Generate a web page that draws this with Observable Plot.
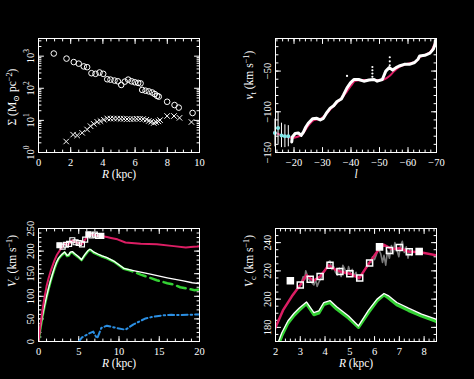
<!DOCTYPE html>
<html><head><meta charset="utf-8">
<script src="https://cdn.jsdelivr.net/npm/d3@7"></script>
<script src="https://cdn.jsdelivr.net/npm/@observablehq/plot@0.6"></script>
<style>
html,body{margin:0;padding:0;background:#000;}
#wrap{position:relative;width:474px;height:379px;background:#000;overflow:hidden;}
#wrap > svg{position:absolute;}
</style>
</head><body><div id="wrap"></div>
<script>
// ---------- Panel 1: surface density ----------
const circR = [0.95,1.74,2.19,2.5,2.81,3.02,3.29,3.54,3.79,4.02,4.27,4.47,4.72,4.93,5.14,5.36,5.57,5.78,5.98,6.19,6.34,6.44,6.65,6.85,7.06,7.22,7.37,7.47,7.99,8.45,8.71,9.57];
const circS = [1210,840,655,585,480,455,295,282,310,282,191,186,174,165,127,161,186,165,154,147,142,89,84,80,74,66,58,55,38,30,25,17];
const crossR = [1.72,2.15,2.4,2.71,3.02,3.23,3.43,3.65,3.85,4.06,4.27,4.47,4.68,4.89,5.1,5.3,5.5,5.7,5.9,6.1,6.3,6.5,6.7,6.85,7.0,7.16,7.3,7.45,7.55,7.99,8.42,8.76,9.5];
const crossS = [2.2,3.6,3.4,4.1,5.2,6.6,7.8,9.0,9.5,10.5,11.5,11.4,11.4,11.4,11.2,11.2,11.0,11.0,11.0,11.2,11.2,11.0,10.5,9.6,9.1,8.3,8.8,9.3,10.2,13.7,13.7,12.0,8.9];
const p1XMajor = [0,2,4,6,8,10];
const p1YMajor = [1,10,100,1000];
const p1YLabels = ["10^{0}","10^{1}","10^{2}","10^{3}"];

// ---------- Panel 2: terminal velocity vs longitude ----------
const trL = [-19.2,-19.4,-20.4,-21.5,-22.5,-23.3,-24.1,-25.0,-26.5,-28.0,-29.2,-30.3,-31.5,-32.7,-33.9,-35.1,-36.6,-37.4,-38.6,-39.8,-41.0,-42.7,-44.5,-46.3,-48.1,-49.2,-51.0,-52.2,-53.4,-54.6,-55.8,-56.9,-58.7,-60.5,-62.3,-63.5,-64.1,-65.9,-67.7,-68.9,-69.5,-69.6];
const trV = [-137,-131,-126.6,-126,-129,-125,-119,-114,-108.5,-108,-110,-108,-101,-95.5,-92.6,-87.3,-84.2,-79,-70.6,-64.5,-60.4,-60.4,-62.4,-61,-60.4,-62.4,-60.4,-50,-45.8,-48.8,-45.8,-43.8,-41.7,-41.7,-39.5,-35.5,-31.4,-30.6,-28,-23,-16.6,-12.4];
const modL = [-13,-15,-17,-19,-21,-23,-25,-27,-29,-31,-33,-35,-37,-38.6,-40,-41.5,-44,-47,-50,-51.7,-53.5,-55.2,-57,-59,-61,-62.4,-64.2,-66,-68,-69.5];
const modV = [-125,-128,-130,-132,-131,-127,-117,-110,-109,-104,-96,-89,-82,-75,-68,-62,-61,-61,-61,-60,-56,-50,-45,-42,-40,-39,-33,-30,-26,-15];
const outL = [-38.6,-47.5,-47.5,-47.5,-47.5,-51.9,-53.6,-53.6,-53.6];
const outV = [-56,-45,-49,-53,-57,-52,-33,-38,-43];
const cyL = [-13.3,-14.4,-15.6,-16.8,-18.0];
const cyV = [-126,-120,-129,-130,-130];
const cyE = [17,20,15,14,13];
const p2XMajor = [-20,-30,-40,-50,-60,-70];
const p2YMajor = [-150,-100,-50];

// ---------- Panels 3 & 4: rotation curves ----------
const redR = [0,0.25,0.5,0.75,1.0,1.25,1.5,1.75,2.0,2.3,2.66,3.0,3.25,3.53,3.8,4.15,4.4,4.6,5.0,5.38,5.78,6.2,6.38,6.7,7.0,7.4,7.8,8.5,9.0,9.8,10.8,12.7,14.7,16.8,18.3,18.9,19.7,20];
const redV = [0,38,70,98,122,140,155,168,180,192,202,210,217,213,216,224,221,219.6,218,214.8,225.5,236,238.5,235.4,236,233.5,233.3,231,229,226,219,216.5,215,211,208,209,210,211];
const whiteR = [0,0.25,0.5,0.75,1.0,1.25,1.5,1.75,2.0,2.25,2.5,2.75,2.95,3.25,3.55,3.75,3.95,4.2,4.47,4.95,5.35,5.75,6.1,6.38,6.55,6.9,7.37,7.9,8.45,9.35,10.6,11.8,13.9,16,18,19.1,20];
const whiteV = [0,33,58,80,100,118,135,150,164,176,184.5,190,193.5,198,190.5,191.7,197.6,199,194.6,188,181,192,200,204,202.5,197.6,193.6,189.4,186,178,162,157,149,141,134,130,128];
const greenR = [0,0.25,0.5,0.75,1.0,1.25,1.5,1.75,2.0,2.25,2.5,2.75,2.95,3.25,3.55,3.75,3.95,4.2,4.47,4.95,5.35,5.75,6.1,6.38,6.55,6.9,7.37,7.9,8.45,9.35,10.6,11.4,12.7,14.7,16,16.8,17.6,18.1,18.9,19.4,20];
const greenV = [0,31,56,78,98,116,133,148,162,174,183,188.5,192,196.8,189,190.2,196.2,197.6,193,186.6,180,190.5,198.8,203,201,196,192,188,184.5,177,161,157,148,135.5,129,126,120,118.5,115.5,113.5,115];
const blueR = [5.0,5.4,5.8,6.3,6.8,7.1,7.3,7.8,8.5,9.4,10.8,11.8,12.5,13.3,14.3,15.5,16.5,17.6,18.5,19.3,20];
const blueV = [0,9,13,18,22,12,7,30,35,31,26,38,44,51,55,58,59,58.5,59,59.5,60];
const sqR = [2.6,3.0,3.4,3.8,4.2,4.6,5.0,5.4,5.8,6.2,6.6,7.0,7.4,7.8];
const sqV = [213,210,214,216,224,219.5,218,215,225.5,237,234.5,236.5,233.5,233.7];
const sqFilled = [true,false,false,false,false,false,false,false,false,true,false,false,false,true];
const grayR = [3.05,3.12,3.18,3.22,3.28,3.35,3.45,3.55,3.62,3.68,3.75,3.85,3.95,4.05,4.12,4.2,4.28,4.35,4.42,4.5,4.58,4.65,4.72,4.8,4.88,4.95,5.02,5.1,5.18,5.25,5.32,
               5.85,5.92,6.0,6.08,6.15,6.25,6.32,6.38,6.45,6.52,6.6,6.68,6.75,6.82,6.9,6.98,7.05,7.12,7.2,7.28,7.35,7.42,7.5];
const grayV = [212,216,214,220,217,214,212,210,214,209,212,215,219,222,226,227,221,223,219,217,222,216,224,221,217,223,219,221,216,219,214,
               226,230,228,232,236,232,226,231,224,234,229,238,232,240,235,230,238,241,233,237,229,235,231];
const grayG = [0,0,0,0,0,0,0,0,0,0,0,0,0,0,0,0,0,0,0,0,0,0,0,0,0,0,0,0,0,0,0,
               1,1,1,1,1,1,1,1,1,1,1,1,1,1,1,1,1,1,1,1,1,1,1];
const p3XMajor = [0,5,10,15,20];
const p3YMajor = [0,50,100,150,200,250];
const p4XMajor = [2,3,4,5,6,7,8];
const p4YMajor = [180,200,220,240];

// ---------- tables ----------
const circ = circR.map((R,i)=>({R, S:circS[i]}));
const cross = crossR.map((R,i)=>({R, S:crossS[i]}));
const tr = trL.map((l,i)=>({l, v:trV[i]}));
const mod = modL.map((l,i)=>({l, v:modV[i]}));
const outs = outL.map((l,i)=>({l, v:outV[i]}));
const cy = cyL.map((l,i)=>({l, v:cyV[i], e:cyE[i]}));
const red = redR.map((R,i)=>({R, V:redV[i]}));
const white = whiteR.map((R,i)=>({R, V:whiteV[i]}));
const green = greenR.map((R,i)=>({R, V:greenV[i]}));
const blue = blueR.map((R,i)=>({R, V:blueV[i]}));
const sq = sqR.map((R,i)=>({R, V:sqV[i], f:sqFilled[i]}));
const gray = grayR.map((R,i)=>({R, V:grayV[i], g:grayG[i]}));

const FONT = "'Liberation Serif','DejaVu Serif',serif";
const RED = "#dc1e64", GREEN = "#34d134", BLUE = "#2b8fe3", CYAN = "#7fe6e6";

function rangeTicks(a, b, step) {
  const out = []; const n = Math.round((b - a) / step);
  for (let i = 0; i <= n; i++) out.push(+(a + i * step).toFixed(6));
  return out;
}

const tickShape = {draw(context, l) { context.moveTo(0, 0); context.lineTo(0, -l); }};
function inTicks(ticks, side, len) {
  const o = {frameAnchor: side, length: len, anchor: "start", shape: tickShape, stroke: "white", strokeWidth: 1};
  if (side === "bottom") return Plot.vector(ticks, {...o, x: d => d, rotate: 0});
  if (side === "top") return Plot.vector(ticks, {...o, x: d => d, rotate: 180});
  if (side === "left") return Plot.vector(ticks, {...o, y: d => d, rotate: 90});
  return Plot.vector(ticks, {...o, y: d => d, rotate: -90});
}

function axes({xMajor, xMinor, yMajor, yMinor, xFmt, yFmt, xTitle, yTitle, yTitleDy = 0}) {
  return [
    inTicks(xMinor, "bottom", 2.5), inTicks(xMinor, "top", 2.5),
    inTicks(xMajor, "bottom", 5), inTicks(xMajor, "top", 5),
    inTicks(yMinor, "left", 2.5), inTicks(yMinor, "right", 2.5),
    inTicks(yMajor, "left", 5), inTicks(yMajor, "right", 5),
    Plot.axisX(xMajor, {anchor: "bottom", tickSize: 0, tickPadding: 6, tickFormat: xFmt, label: null, fontSize: 10.5}),
    Plot.axisY(yMajor, {anchor: "left", tickSize: 0, tickPadding: 5, tickRotate: -90, tickFormat: yFmt, label: null, fontSize: 10.5}),
    Plot.text([xTitle], {text: d => d, frameAnchor: "bottom", dy: 25, fill: "white", fontSize: 11.5}),
    Plot.text([yTitle], {text: d => d, frameAnchor: "left", dx: -26, dy: yTitleDy, rotate: -90, fill: "white", fontSize: 11.5})
  ];
}

// simple markup: *italic*, _{sub}, ^{sup}
function rich(svg) {
  svg.querySelectorAll("text").forEach(t => {
    const s = t.textContent;
    if (!/[*_^]/.test(s)) return;
    const segs = [];
    const re = /\*([^*]+)\*|_\{([^}]*)\}|\^\{([^}]*)\}|([^*_^]+)/g;
    let m;
    while ((m = re.exec(s))) {
      if (m[1] !== undefined) segs.push({t: m[1], it: true, off: 0});
      else if (m[2] !== undefined) segs.push({t: m[2], off: 3, small: true});
      else if (m[3] !== undefined) segs.push({t: m[3], off: -4.5, small: true});
      else segs.push({t: m[4], off: 0});
    }
    while (t.firstChild) t.removeChild(t.firstChild);
    let cur = 0;
    for (const g of segs) {
      const ts = document.createElementNS("http://www.w3.org/2000/svg", "tspan");
      ts.textContent = g.t;
      if (g.off !== cur) { ts.setAttribute("dy", g.off - cur); cur = g.off; }
      if (g.it) ts.setAttribute("font-style", "italic");
      if (g.small) ts.setAttribute("font-size", "0.72em");
      t.appendChild(ts);
    }
  });
}

function place(svg, left, top) {
  svg.style.left = left + "px";
  svg.style.top = top + "px";
  rich(svg);
  document.getElementById("wrap").appendChild(svg);
}

const base = (h) => ({
  width: 237, height: h, marginLeft: 38, marginRight: 38, marginTop: 38, marginBottom: 38,
  style: {background: "transparent", color: "white", fontFamily: FONT, fontSize: "10.5px"}
});

// Panel 1
const p1 = Plot.plot({
  ...base(190),
  x: {domain: [0, 10]},
  y: {type: "log", domain: [1, 3550]},
  marks: [
    ...axes({
      xMajor: p1XMajor, xMinor: rangeTicks(0, 10, 0.5),
      yMajor: p1YMajor, yMinor: [2,3,4,5,6,7,8,9,20,30,40,50,60,70,80,90,200,300,400,500,600,700,800,900,2000,3000],
      xFmt: d => String(d), yFmt: d => p1YLabels[p1YMajor.indexOf(d)],
      xTitle: "*R* (kpc)", yTitle: "Σ (M_{⊙} pc^{−2})", yTitleDy: 30
    }),
    Plot.dot(circ, {x: "R", y: "S", r: 2.8, stroke: "white", fill: "none", strokeWidth: 1}),
    Plot.dot(cross, {x: "R", y: "S", symbol: "times", r: 2.6, stroke: "white", strokeWidth: 1}),
    Plot.frame({stroke: "white"})
  ]
});
place(p1, 0, 0);

// Panel 2
const p2 = Plot.plot({
  ...base(190),
  x: {domain: [-13.5, -70]},
  y: {domain: [-150, -10]},
  marks: [
    ...axes({
      xMajor: p2XMajor, xMinor: rangeTicks(-70, -14, 2),
      yMajor: p2YMajor, yMinor: rangeTicks(-150, -10, 10),
      xFmt: d => "−" + Math.abs(d), yFmt: d => "−" + Math.abs(d),
      xTitle: "*l*", yTitle: "*v*_{t} (km s^{−1})", yTitleDy: 4
    }),
    Plot.line(mod, {x: "l", y: "v", stroke: RED, strokeWidth: 2, curve: "monotone-x"}),
    Plot.ruleX(cy, {x: "l", y1: d => d.v - d.e, y2: d => d.v + d.e, stroke: "white", strokeWidth: 1}),
    Plot.line(tr, {x: "l", y: "v", stroke: "white", strokeWidth: 3}),
    Plot.dot(outs, {x: "l", y: "v", r: 1.1, fill: "white"}),
    Plot.dot(cy, {x: "l", y: "v", r: 2, fill: CYAN}),
    Plot.frame({stroke: "white"})
  ]
});
place(p2, 237, 0);

// Panel 3
const p3 = Plot.plot({
  ...base(189),
  x: {domain: [0, 20]},
  y: {domain: [0, 250]},
  marks: [
    ...axes({
      xMajor: p3XMajor, xMinor: rangeTicks(0, 20, 1),
      yMajor: p3YMajor, yMinor: rangeTicks(0, 250, 10),
      xFmt: d => String(d), yFmt: d => String(d),
      xTitle: "*R* (kpc)", yTitle: "*V*_{c} (km s^{−1})", yTitleDy: 2
    }),
    Plot.line(blue, {x: "R", y: "V", stroke: BLUE, strokeWidth: 2, strokeDasharray: "6,3,1.5,3", clip: true}),
    Plot.line(green.filter(d => d.R <= 10.6), {x: "R", y: "V", stroke: GREEN, strokeWidth: 2.5, clip: true}),
    Plot.line(green.filter(d => d.R >= 10.6), {x: "R", y: "V", stroke: GREEN, strokeWidth: 2.5, strokeDasharray: "9,5", clip: true}),
    Plot.line(white, {x: "R", y: "V", stroke: "white", strokeWidth: 1.3, clip: true}),
    Plot.line(red, {x: "R", y: "V", stroke: RED, strokeWidth: 2, clip: true}),
    Plot.dot(sq, {x: "R", y: "V", symbol: "square", r: 2.8, stroke: "white", strokeWidth: 1.2, fill: d => d.f ? "white" : "none"}),
    Plot.frame({stroke: "white"})
  ]
});
place(p3, 0, 190);

// Panel 4
const p4 = Plot.plot({
  ...base(189),
  x: {domain: [2, 8.5]},
  y: {domain: [170, 250]},
  marks: [
    ...axes({
      xMajor: p4XMajor, xMinor: rangeTicks(2, 8.4, 0.2),
      yMajor: p4YMajor, yMinor: rangeTicks(170, 250, 5),
      xFmt: d => String(d), yFmt: d => String(d),
      xTitle: "*R* (kpc)", yTitle: "*V*_{c} (km s^{−1})", yTitleDy: 2
    }),
    Plot.line(gray, {x: "R", y: "V", z: "g", stroke: "#7a7a7a", strokeWidth: 1.6, clip: true}),
    Plot.line(green, {x: "R", y: "V", stroke: GREEN, strokeWidth: 3.2, clip: true}),
    Plot.line(white, {x: "R", y: "V", stroke: "white", strokeWidth: 1.3, clip: true}),
    Plot.line(red, {x: "R", y: "V", stroke: RED, strokeWidth: 2.5, clip: true}),
    Plot.dot(sq, {x: "R", y: "V", symbol: "square", r: 3.4, stroke: "white", strokeWidth: 1.5, fill: d => d.f ? "white" : "none"}),
    Plot.frame({stroke: "white"})
  ]
});
place(p4, 237, 190);
</script>
</body></html>
